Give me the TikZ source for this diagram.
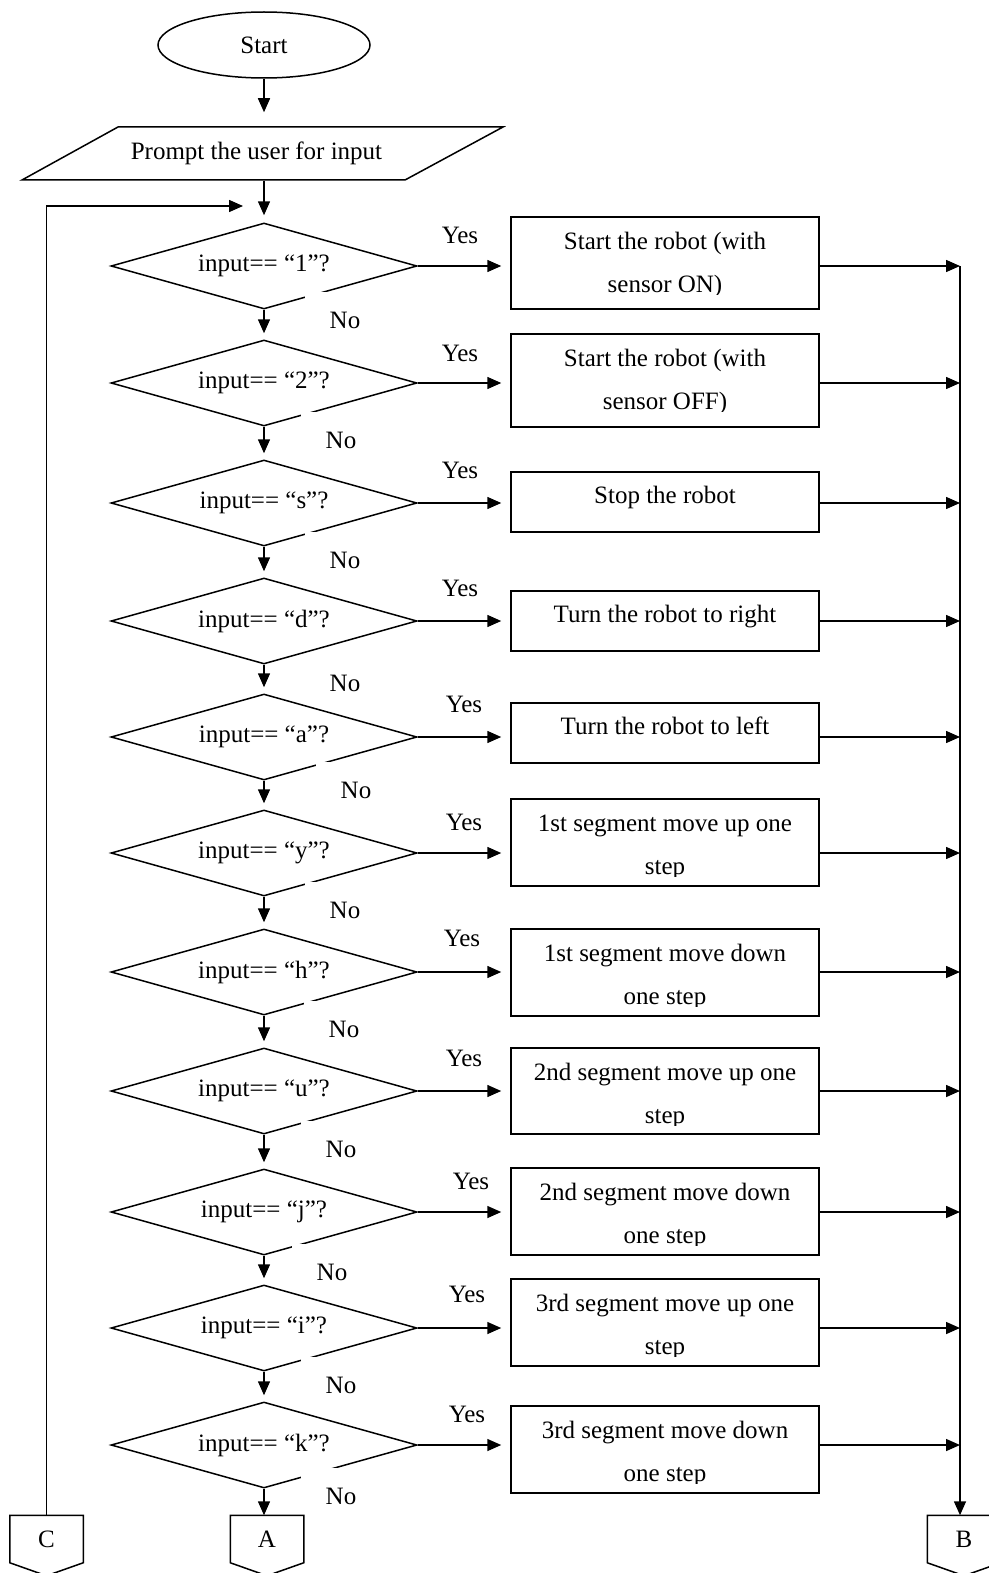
\documentclass[tikz,border=0pt]{standalone}
\usepackage{fontspec}
\setmainfont{Liberation Serif}
\usetikzlibrary{shapes.geometric,arrows.meta,calc}
\begin{document}
\begin{tikzpicture}[x=1pt,y=-1pt,line width=1.5pt,
  every node/.style={font=\fontsize{25}{30}\selectfont,inner sep=0pt},
  arr/.style={-{Triangle[length=14pt,width=12pt]}},
  terminal/.style={ellipse,draw,minimum width=212pt,minimum height=66pt},
  iobox/.style={rectangle,minimum width=385pt,minimum height=53pt},
  decision/.style={diamond,draw,aspect=3.5,minimum width=306pt,minimum height=86pt},
  procbox/.style={rectangle,draw,minimum width=308pt},
  txt/.style={anchor=base},
  yeslbl/.style={anchor=base},
  nolbl/.style={anchor=base,fill=white,inner xsep=25pt,text height=36pt,text depth=12pt},
  offpage/.style={rectangle,minimum width=72pt,minimum height=46pt},
]
\path[use as bounding box,fill=white] (0,0) rectangle (988,1573);

% start and input
\node[terminal] (start) at (264,45) {Start};
\node[iobox] (prompt) at (256.5,153.5) {Prompt the user for input};
\draw ($(prompt.center)+(-138.5,-26.5)$) -- ($(prompt.center)+(246.5,-26.5)$)
   -- ($(prompt.center)+(148.5,26.5)$) -- ($(prompt.center)+(-234.5,26.5)$) -- cycle;

% decisions with their Yes / No labels
\foreach \i/\yc/\ch/\yx/\yb/\nx/\nb in {
  1/266/1/460/243/345/328,
  2/383/2/460/361/341/448,
  3/503/s/460/478/345/568,
  4/621/d/460/596/345/691,
  5/737/a/464/712/356/798,
  6/853/y/464/830/345/918,
  7/972/h/462/946/344/1037,
  8/1091/u/464/1066/341/1157,
  9/1212/j/471/1189/332/1280,
  10/1328/i/467/1302/341/1393,
  11/1445/k/467/1422/341/1504}{
  \node[decision] (d\i) at (264,\yc) {input== “\ch”?};
  \node[nolbl] (n\i) at (\nx,\nb) {No};
  \node[yeslbl] (y\i) at (\yx,\yb) {Yes};
}

% action boxes with two lines of text
\foreach \i/\ty/\by/\la/\lb in {
  1/217/309/{Start the robot (with}/{sensor ON)},
  2/334/427/{Start the robot (with}/{sensor OFF)},
  6/799/886/{1st segment move up one}/{step},
  7/929/1016/{1st segment move down}/{one step},
  8/1048/1134/{2nd segment move up one}/{step},
  9/1168/1255/{2nd segment move down}/{one step},
  10/1279/1366/{3rd segment move up one}/{step},
  11/1406/1493/{3rd segment move down}/{one step}}{
  \node[procbox,minimum height=\by-\ty] (b\i) at (665,{(\ty+\by)/2}) {};
  \node[txt] (b\i-l1) at ([yshift=-33pt]b\i.north) {\la};
  \begin{scope}
    \clip (b\i.north west) rectangle ([yshift=-78pt]b\i.north east);
    \node[txt] (b\i-l2) at ([yshift=-76pt]b\i.north) {\lb};
  \end{scope}
}

% action boxes with one line of text
\foreach \i/\ty/\by/\la in {
  3/472/532/{Stop the robot},
  4/591/651/{Turn the robot to right},
  5/703/763/{Turn the robot to left}}{
  \node[procbox,minimum height=\by-\ty] (b\i) at (665,{(\ty+\by)/2}) {};
  \node[txt] (b\i-l1) at ([yshift=-32.5pt]b\i.north) {\la};
}

% off-page connectors
\node[offpage] (C) at (46.5,1539) {C};
\node[offpage] (A) at (267,1539) {A};
\node[offpage] (B) at (964,1539) {B};
\foreach \n in {C,A,B}{
  \draw (\n.north west) -- (\n.south west) -- ($(\n.south)+(0,13)$)
     -- (\n.south east) -- (\n.north east) -- cycle;
}

\coordinate (loopend) at (243,206);
\coordinate (bustop) at (960,266);

% connectors
\draw[arr,shorten >=14pt] (start.south) -- (start.south |- prompt.north);
\draw[arr,shorten >=7pt] (d1.north |- prompt.south) -- (d1.north);
\draw[arr] (C.north) |- (loopend);
\foreach \i/\j in {1/2,2/3,3/4,4/5,5/6,6/7,7/8,8/9,9/10,10/11}{
  \draw[arr,shorten >=6pt] (d\i.south) -- (d\j.north);
}
\draw[arr] (d11.south) -- (d11.south |- A.north);
\foreach \i in {1,...,11}{
  \draw[arr,shorten >=9pt] (d\i.east) -- (d\i.east -| b\i.west);
  \draw[arr] (d\i.east -| b\i.east) -- (d\i.east -| bustop);
}
\draw[arr] (bustop) -- (bustop |- B.north);
\end{tikzpicture}
\end{document}
